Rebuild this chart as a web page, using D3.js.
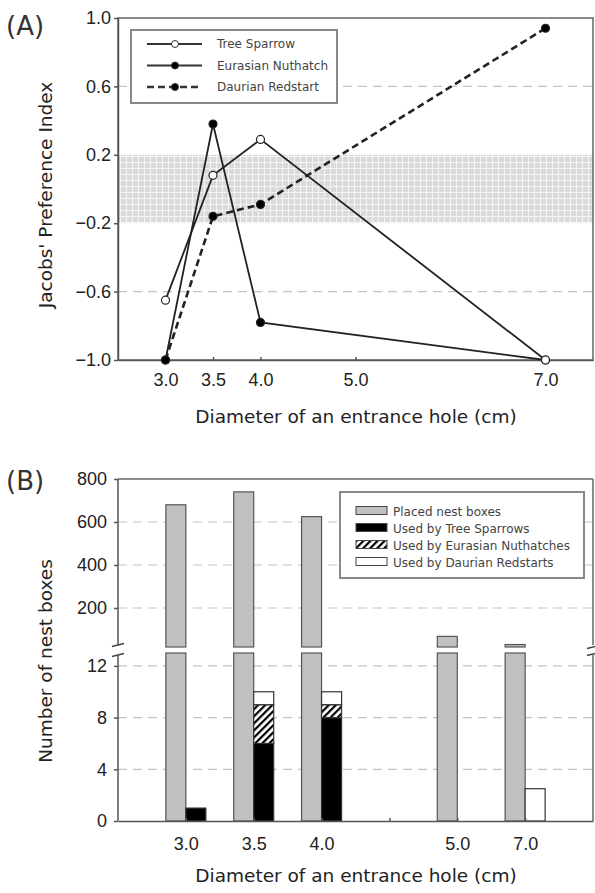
<!DOCTYPE html>
<html>
<head>
<meta charset="utf-8">
<script src="https://cdn.jsdelivr.net/npm/d3@7"></script>
<style>
  body { margin: 0; background: #fff; }
  svg { font-family: "DejaVu Sans", sans-serif; }
  .axis path, .axis line { stroke: #555; stroke-width: 1.5; }
  .axis text { font-size: 18px; fill: #222; }
  .grid { stroke: #c4c4c4; stroke-width: 1.2; stroke-dasharray: 9,6; }
</style>
</head>
<body>
<div id="chart"></div>
<script>
var W = 595, H = 893;

// panel A : Jacobs' preference index
var diam = [3.0, 3.5, 4.0, 7.0];
var treeSparrow = [-0.65, 0.08, 0.29, -1.0];
var nuthatch = [-1.0, 0.38, -0.78, -1.0];
var redstart = [-1.0, -0.16, -0.09, 0.94];
var xTicksA = [3.0, 3.5, 4.0, 5.0, 7.0];
var yTicksA = [1.0, 0.6, 0.2, -0.2, -0.6, -1.0];

// panel B : nest boxes
var slots = ["3.0", "3.5", "4.0", "gap", "5.0", "7.0"];
var holes = ["3.0", "3.5", "4.0", "5.0", "7.0"];
var placed = [680, 740, 625, 68, 30];
var usedTS = [1, 6, 8, 0, 0];
var usedEN = [0, 3, 1, 0, 0];
var usedDR = [0, 1, 1, 0, 2.5];
var upperTicks = [800, 600, 400, 200];
var lowerTicks = [12, 8, 4, 0];

var svg = d3.select("#chart").append("svg")
	.attr("width", W)
	.attr("height", H);

var defs = svg.append("defs");
var dots = defs.append("pattern")
	.attr("id", "dots")
	.attr("patternUnits", "userSpaceOnUse")
	.attr("width", 6).attr("height", 6);
dots.append("rect").attr("width", 6).attr("height", 6).attr("fill", "#dadada");
dots.append("rect").attr("width", 6).attr("height", 1).attr("fill", "#f4f4f4");
dots.append("rect").attr("width", 1).attr("height", 6).attr("fill", "#f4f4f4");

var hatch = defs.append("pattern")
	.attr("id", "hatch")
	.attr("patternUnits", "userSpaceOnUse")
	.attr("width", 5).attr("height", 5)
	.attr("patternTransform", "rotate(-45)");
hatch.append("rect").attr("width", 5).attr("height", 5).attr("fill", "#fff");
hatch.append("rect").attr("width", 5).attr("height", 2.2).attr("fill", "#000");

// ---------- panel A ----------
var L = 118, R = 593;
var xA = d3.scaleLinear().domain([2.5, 7.5]).range([L, R]);
var yA = d3.scaleLinear().domain([-1, 1]).range([360, 18]);

var gA = svg.append("g");

gA.append("rect")
	.attr("x", L).attr("y", yA(0.2))
	.attr("width", R - L).attr("height", yA(-0.2) - yA(0.2))
	.attr("fill", "url(#dots)");

gA.selectAll(".gridA").data([0.6, -0.6]).enter().append("line")
	.attr("class", "grid")
	.attr("x1", L).attr("x2", R)
	.attr("y1", d => yA(d)).attr("y2", d => yA(d));

gA.append("rect")
	.attr("x", L).attr("y", yA(1))
	.attr("width", R - L).attr("height", yA(-1) - yA(1))
	.attr("fill", "none").attr("stroke", "#666").attr("stroke-width", 1.5);

gA.append("g").attr("class", "axis")
	.attr("transform", "translate(" + L + ",0)")
	.call(d3.axisLeft(yA).tickValues(yTicksA).tickFormat(d3.format(".1f")).tickSizeInner(4).tickSizeOuter(0).tickPadding(3));

gA.append("g").attr("class", "axis")
	.attr("transform", "translate(0," + yA(-1) + ")")
	.call(d3.axisBottom(xA).tickValues(xTicksA).tickFormat(d3.format(".1f")).tickSizeInner(-3).tickSizeOuter(0).tickPadding(13));

var line = d3.line().x((d, i) => xA(diam[i])).y(d => yA(d));

var seriesA = [
	{ name: "Tree Sparrow", vals: treeSparrow, dash: null, open: true },
	{ name: "Eurasian Nuthatch", vals: nuthatch, dash: null, open: false },
	{ name: "Daurian Redstart", vals: redstart, dash: "7,4", open: false }
];

seriesA.slice().reverse().forEach(function(s) {
	gA.append("path")
		.attr("d", line(s.vals))
		.attr("fill", "none")
		.attr("stroke", "#222")
		.attr("stroke-width", s.dash ? 2.6 : 1.8)
		.attr("stroke-dasharray", s.dash);
	gA.selectAll(null).data(s.vals).enter().append("circle")
		.attr("cx", (d, i) => xA(diam[i]))
		.attr("cy", d => yA(d))
		.attr("r", 4)
		.attr("fill", s.open ? "#fff" : "#000")
		.attr("stroke", "#222").attr("stroke-width", 1.2);
});

// legend A
var legA = gA.append("g").attr("transform", "translate(131,30)");
legA.append("rect").attr("width", 206).attr("height", 73)
	.attr("fill", "#fff").attr("stroke", "#888").attr("stroke-width", 2);
seriesA.forEach(function(s, i) {
	var yy = 14 + i * 21.5;
	legA.append("line").attr("x1", 16).attr("x2", 71).attr("y1", yy).attr("y2", yy)
		.attr("stroke", "#333").attr("stroke-width", s.dash ? 2.4 : 1.8)
		.attr("stroke-dasharray", s.dash);
	legA.append("circle").attr("cx", 44).attr("cy", yy).attr("r", 3.5)
		.attr("fill", s.open ? "#fff" : "#000").attr("stroke", "#333");
	legA.append("text").attr("x", 86).attr("y", yy + 4)
		.attr("font-size", 12).attr("fill", "#444").text(s.name);
});

svg.append("text").attr("x", 6).attr("y", 35).attr("font-size", 26).attr("fill", "#333").text("(A)");
svg.append("text")
	.attr("transform", "translate(52," + 195 + ") rotate(-90)")
	.attr("text-anchor", "middle").attr("font-size", 18.5).attr("fill", "#222")
	.text("Jacobs' Preference Index");
svg.append("text").attr("x", 356).attr("y", 423)
	.attr("text-anchor", "middle").attr("font-size", 18.5).attr("fill", "#222")
	.text("Diameter of an entrance hole (cm)");

// ---------- panel B ----------
var xB = d3.scalePoint().domain(slots).range([L, R]).padding(1);
var yUp = d3.scaleLinear().domain([0, 800]).range([651, 479]);
var yLow = d3.scaleLinear().domain([0, 13]).range([821, 653]);
var upBottom = 647, lowTop = 653, bw = 20;

var gB = svg.append("g");

gB.selectAll(".gu").data(upperTicks.slice(1)).enter().append("line")
	.attr("class", "grid").attr("x1", L).attr("x2", R)
	.attr("y1", d => yUp(d)).attr("y2", d => yUp(d));
gB.selectAll(".gl").data(lowerTicks.slice(0, 3)).enter().append("line")
	.attr("class", "grid").attr("x1", L).attr("x2", R)
	.attr("y1", d => yLow(d)).attr("y2", d => yLow(d));

// placed boxes, drawn in two pieces around the break
holes.forEach(function(h, i) {
	var cx = xB(h);
	gB.append("rect")
		.attr("x", cx - bw).attr("width", bw)
		.attr("y", yLow(Math.min(placed[i], 13)))
		.attr("height", yLow(0) - yLow(Math.min(placed[i], 13)))
		.attr("fill", "#c0c0c0").attr("stroke", "#555").attr("stroke-width", 1.2);
	if (yUp(placed[i]) < upBottom) {
		gB.append("rect")
			.attr("x", cx - bw).attr("width", bw)
			.attr("y", yUp(placed[i]))
			.attr("height", upBottom - yUp(placed[i]))
			.attr("fill", "#c0c0c0").attr("stroke", "#555").attr("stroke-width", 1.2);
	}
});

var stackB = [
	{ name: "Used by Tree Sparrows", vals: usedTS, fill: "#000" },
	{ name: "Used by Eurasian Nuthatches", vals: usedEN, fill: "url(#hatch)" },
	{ name: "Used by Daurian Redstarts", vals: usedDR, fill: "#fff" }
];
holes.forEach(function(h, i) {
	var base = 0;
	stackB.forEach(function(s) {
		var v = s.vals[i];
		if (v > 0) {
			gB.append("rect")
				.attr("x", xB(h)).attr("width", bw)
				.attr("y", yLow(base + v))
				.attr("height", yLow(base) - yLow(base + v))
				.attr("fill", s.fill).attr("stroke", "#333").attr("stroke-width", 1.2);
		}
		base += v;
	});
});

// frame and axes with break
var fr = "#666";
gB.append("line").attr("x1", L).attr("x2", R).attr("y1", yUp(800)).attr("y2", yUp(800))
	.attr("stroke", fr).attr("stroke-width", 1.5);
gB.append("line").attr("x1", R).attr("x2", R).attr("y1", yUp(800)).attr("y2", upBottom - 2)
	.attr("stroke", fr).attr("stroke-width", 1.5);
gB.append("line").attr("x1", R).attr("x2", R).attr("y1", lowTop + 2).attr("y2", yLow(0))
	.attr("stroke", fr).attr("stroke-width", 1.5);

gB.append("g").attr("class", "axis")
	.attr("transform", "translate(" + L + ",0)")
	.call(d3.axisLeft(yUp.copy().range([651, 479])).tickValues(upperTicks).tickSizeInner(4).tickSizeOuter(0).tickPadding(7))
	.call(g => g.select(".domain").attr("d", "M0," + yUp(800) + "V" + (upBottom - 2)));

gB.append("g").attr("class", "axis")
	.attr("transform", "translate(" + L + ",0)")
	.call(d3.axisLeft(yLow).tickValues(lowerTicks).tickSizeInner(4).tickSizeOuter(0).tickPadding(7))
	.call(g => g.select(".domain").attr("d", "M0," + (lowTop + 2) + "V" + yLow(0)));

[[L, 645], [L, 655], [R, 647], [R, 654]].forEach(function(p) {
	gB.append("line")
		.attr("x1", p[0] - 6).attr("x2", p[0] + 6)
		.attr("y1", p[1] + 1.5).attr("y2", p[1] - 1.5)
		.attr("stroke", "#444").attr("stroke-width", 1.3);
});

gB.append("g").attr("class", "axis")
	.attr("transform", "translate(0," + yLow(0) + ")")
	.call(d3.axisBottom(xB).tickFormat(d => d === "gap" ? "" : d).tickSizeInner(-3).tickSizeOuter(0).tickPadding(16));

// legend B
var legB = gB.append("g").attr("transform", "translate(340,492)");
legB.append("rect").attr("width", 244).attr("height", 86)
	.attr("fill", "#fff").attr("stroke", "#888").attr("stroke-width", 2);
var legItems = [{ name: "Placed nest boxes", fill: "#c0c0c0" }].concat(stackB);
legItems.forEach(function(s, i) {
	var yy = 19 + i * 17;
	legB.append("rect").attr("x", 16).attr("y", yy - 4.5).attr("width", 31).attr("height", 8)
		.attr("fill", s.fill).attr("stroke", "#444").attr("stroke-width", 1);
	legB.append("text").attr("x", 53).attr("y", yy + 4.5)
		.attr("font-size", 12).attr("fill", "#444").text(s.name);
});

svg.append("text").attr("x", 6).attr("y", 490).attr("font-size", 26).attr("fill", "#333").text("(B)");
svg.append("text")
	.attr("transform", "translate(52," + 661 + ") rotate(-90)")
	.attr("text-anchor", "middle").attr("font-size", 18.5).attr("fill", "#222")
	.text("Number of nest boxes");
svg.append("text").attr("x", 356).attr("y", 882)
	.attr("text-anchor", "middle").attr("font-size", 18.5).attr("fill", "#222")
	.text("Diameter of an entrance hole (cm)");
</script>
</body>
</html>
